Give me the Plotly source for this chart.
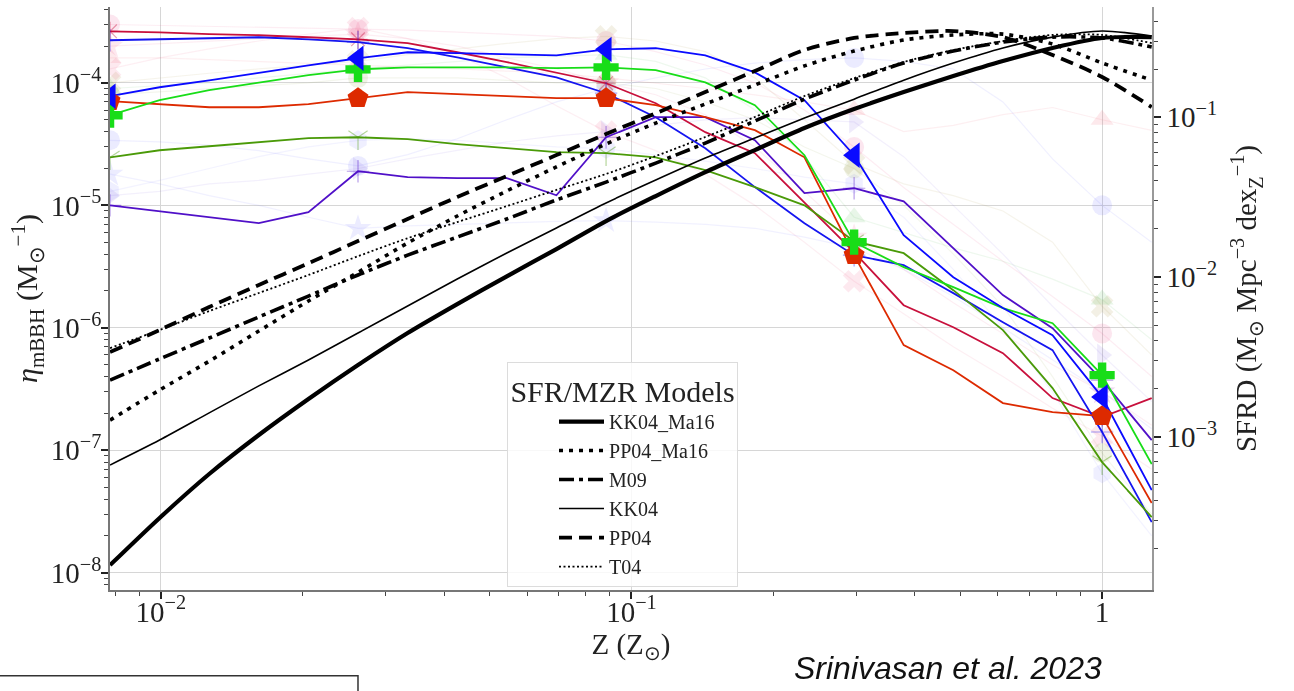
import plotly.graph_objects as go

# Metallicity grid, in solar units
Z = [0.0078, 0.00994, 0.01267, 0.01615, 0.02059, 0.02624, 0.03345, 0.04264,
     0.05434, 0.06927, 0.08831, 0.1126, 0.1435, 0.1829, 0.2331, 0.2972,
     0.3788, 0.4829, 0.6155, 0.7846, 1.0, 1.2746]

# Merger efficiency of BBHs (left axis), highlighted population models
eta_crimson = [2.64e-4, 2.59e-4, 2.50e-4, 2.45e-4, 2.36e-4, 2.27e-4, 2.11e-4, 1.78e-4,
               1.48e-4, 1.22e-4, 9.94e-5, 6.83e-5, 3.96e-5, 2.67e-5, 1.06e-5, 4.15e-6,
               1.53e-6, 1.01e-6, 6.21e-7, 2.67e-7, 1.87e-7, 2.67e-7]
eta_blue = [2.23e-4, 2.27e-4, 2.32e-4, 2.36e-4, 2.27e-4, 2.15e-4, 1.92e-4, 1.62e-4,
            1.34e-4, 1.11e-4, 8.24e-5, 5.25e-5, 2.93e-5, 1.41e-5, 7.16e-6, 3.92e-6,
            3.25e-6, 1.92e-6, 1.11e-6, 6.58e-7, 1.41e-7, 2.59e-8]
eta_blue_tri = [7.79e-5, 9.22e-5, 1.05e-4, 1.20e-4, 1.39e-4, 1.59e-4, 1.78e-4, 1.75e-4,
                1.72e-4, 1.68e-4, 1.88e-4, 1.92e-4, 1.68e-4, 1.22e-4, 7.22e-5, 2.57e-5,
                5.71e-6, 2.59e-6, 1.45e-6, 8.72e-7, 2.72e-7, 4.73e-8]
eta_green_plus = [5.45e-5, 7.22e-5, 8.72e-5, 1.01e-4, 1.16e-4, 1.29e-4, 1.34e-4, 1.34e-4,
                  1.34e-4, 1.32e-4, 1.34e-4, 1.27e-4, 1.01e-4, 6.58e-5, 2.57e-5, 5.01e-6,
                  3.13e-6, 2.15e-6, 1.45e-6, 1.09e-6, 4.11e-7, 7.71e-8]
eta_red_pent = [7.09e-5, 6.70e-5, 6.33e-5, 6.33e-5, 6.70e-5, 7.50e-5, 8.40e-5, 8.09e-5,
                7.79e-5, 7.50e-5, 7.50e-5, 6.58e-5, 5.25e-5, 4.11e-5, 2.47e-5, 3.92e-6,
                7.22e-7, 4.51e-7, 2.43e-7, 2.05e-7, 1.90e-7, 3.71e-8]
eta_olive = [2.47e-5, 2.82e-5, 3.04e-5, 3.28e-5, 3.54e-5, 3.60e-5, 3.47e-5, 3.16e-5,
             2.93e-5, 2.72e-5, 2.67e-5, 2.47e-5, 1.94e-5, 1.41e-5, 1.00e-5, 5.10e-6,
             4.07e-6, 2.03e-6, 9.57e-7, 3.22e-7, 8.01e-8, 2.85e-8]
eta_purple = [1.00e-5, 8.97e-6, 8.01e-6, 7.16e-6, 8.80e-6, 1.90e-5, 1.70e-5, 1.67e-5,
              1.67e-5, 1.21e-5, 3.60e-5, 5.25e-5, 5.25e-5, 3.41e-5, 1.26e-5, 1.38e-5,
              1.08e-5, 4.47e-6, 1.85e-6, 9.94e-7, 3.74e-7, 1.21e-7]

# Remaining population models, shown in the background
eta_bg_1 = [3.0e-4, 2.95e-4, 2.9e-4, 2.85e-4, 2.8e-4, 2.75e-4, 2.7e-4, 2.6e-4, 2.5e-4, 2.4e-4, 2.2e-4,
            1.8e-4, 1.4e-4, 1.0e-4, 6.0e-5, 3.0e-5, 1.4e-5, 7.0e-6, 3.5e-6, 1.8e-6, 9.0e-7, 4.0e-7]
eta_bg_2 = [1.6e-4, 1.6e-4, 1.55e-4, 1.5e-4, 1.45e-4, 1.4e-4, 1.35e-4, 1.3e-4, 1.25e-4, 1.2e-4, 1.1e-4,
            1.0e-4, 9.0e-5, 8.0e-5, 7.0e-5, 6.0e-5, 4.0e-5, 4.5e-5, 5.5e-5, 6.3e-5, 5.0e-5, 4.1e-5]
eta_bg_3 = [3.4e-5, 3.3e-5, 3.1e-5, 2.8e-5, 2.4e-5, 2.1e-5, 2.6e-5, 3.5e-5, 5.0e-5, 7.0e-5, 9.0e-5,
            1.1e-4, 1.3e-4, 1.45e-4, 1.55e-4, 1.6e-4, 1.5e-4, 1.3e-4, 7.0e-5, 2.4e-5, 1.0e-5, 5.0e-6]
eta_bg_4 = [1.8e-5, 1.5e-5, 1.2e-5, 1.0e-5, 8.0e-6, 6.5e-6, 6.8e-6, 7.0e-6, 7.2e-6, 7.4e-6, 7.5e-6,
            7.3e-6, 7.0e-6, 6.5e-6, 5.5e-6, 4.5e-6, 3.0e-6, 1.8e-6, 1.0e-6, 5.5e-7, 3.0e-7, 1.5e-7]
eta_bg_5 = [1.0e-4, 1.1e-4, 1.2e-4, 1.3e-4, 1.4e-4, 1.5e-4, 1.7e-4, 1.9e-4, 2.1e-4, 2.3e-4, 2.4e-4,
            2.2e-4, 1.8e-4, 1.1e-4, 5.0e-5, 2.2e-5, 1.5e-5, 1.2e-5, 9.0e-6, 5.0e-6, 1.5e-6, 6.0e-7]
eta_bg_6 = [9.0e-5, 9.5e-5, 1.0e-4, 1.1e-4, 1.2e-4, 1.3e-4, 1.4e-4, 1.5e-4, 1.6e-4, 1.65e-4, 1.7e-4,
            1.5e-4, 1.1e-4, 6.0e-5, 2.5e-5, 8.0e-6, 6.0e-6, 4.5e-6, 3.5e-6, 2.5e-6, 1.7e-6, 8.0e-7]
eta_bg_7 = [2.0e-4, 2.1e-4, 2.2e-4, 2.3e-4, 2.4e-4, 2.5e-4, 2.3e-4, 2.0e-4, 1.6e-4, 1.3e-4, 1.0e-4,
            8.0e-5, 5.5e-5, 3.0e-5, 1.3e-5, 5.5e-6, 3.0e-6, 1.6e-6, 9.0e-7, 5.0e-7, 3.0e-7, 1.6e-7]
eta_bg_8 = [1.2e-5, 1.3e-5, 1.5e-5, 1.6e-5, 1.8e-5, 2.0e-5, 2.4e-5, 2.8e-5, 3.3e-5, 3.7e-5, 4.0e-5,
            4.5e-5, 5.0e-5, 5.2e-5, 5.0e-5, 4.8e-5, 2.5e-5, 1.0e-5, 4.0e-6, 1.5e-6, 6.0e-7, 2.5e-7]
eta_bg_9 = [1.3e-4, 1.6e-4, 1.9e-4, 2.2e-4, 2.5e-4, 2.8e-4, 2.3e-4, 1.7e-4, 1.1e-4, 6.5e-5, 4.0e-5,
            2.8e-5, 1.8e-5, 1.0e-5, 5.0e-6, 2.4e-6, 1.3e-6, 7.0e-7, 4.0e-7, 2.2e-7, 1.3e-7, 7.0e-8]
eta_bg_10 = [1.3e-5, 1.6e-5, 2.0e-5, 2.5e-5, 3.0e-5, 3.4e-5, 3.5e-5, 3.4e-5, 3.2e-5, 3.0e-5, 2.9e-5,
             2.6e-5, 2.3e-5, 2.0e-5, 1.7e-5, 1.5e-5, 8.0e-6, 3.0e-6, 1.0e-6, 3.0e-7, 6.5e-8, 2.0e-8]
eta_bg_11 = [8.0e-5, 8.5e-5, 9.0e-5, 9.5e-5, 1.0e-4, 1.1e-4, 1.1e-4, 1.1e-4, 1.05e-4, 1.0e-4, 1.0e-4,
             9.0e-5, 7.0e-5, 5.0e-5, 3.0e-5, 2.0e-5, 1.0e-5, 4.0e-6, 1.5e-6, 4.0e-7, 9.5e-8, 3.0e-8]

# Star-formation rate density per metallicity (right axis), one per SFR/MZR model
model_names = ["KK04_Ma16", "PP04_Ma16", "M09", "KK04", "PP04", "T04"]
sfrd_kk04_ma16 = [0.000157, 0.000310, 0.000584, 0.001025, 0.001722, 0.002812, 0.00446, 0.00677,
                  0.0101, 0.01497, 0.02242, 0.03215, 0.0454, 0.0624, 0.0857, 0.1127,
                  0.144, 0.1814, 0.2252, 0.272, 0.314, 0.318]
sfrd_pp04_ma16 = [0.00127, 0.00196, 0.00297, 0.00459, 0.00708, 0.0107, 0.01633, 0.0241,
                  0.0346, 0.0489, 0.0681, 0.0921, 0.1212, 0.1594, 0.210, 0.260,
                  0.305, 0.328, 0.332, 0.288, 0.219, 0.171]
sfrd_m09 = [0.00226, 0.00307, 0.00415, 0.00562, 0.00760, 0.0103, 0.0137, 0.0178,
            0.0231, 0.0304, 0.0393, 0.0517, 0.0690, 0.0948, 0.130, 0.171,
            0.219, 0.260, 0.296, 0.318, 0.314, 0.276]
sfrd_kk04 = [0.000665, 0.000953, 0.00141, 0.00208, 0.00302, 0.00446, 0.00658, 0.00972,
             0.01414, 0.0203, 0.0291, 0.0405, 0.0556, 0.0742, 0.0990, 0.130,
             0.171, 0.219, 0.272, 0.318, 0.347, 0.323]
sfrd_pp04 = [0.00339, 0.00466, 0.00649, 0.00891, 0.0122, 0.0168, 0.0231, 0.0317,
             0.0429, 0.0580, 0.0786, 0.106, 0.144, 0.195, 0.264, 0.314,
             0.337, 0.347, 0.318, 0.246, 0.179, 0.116]
sfrd_t04 = [0.00359, 0.00466, 0.00612, 0.00794, 0.0103, 0.0135, 0.0175, 0.0221,
            0.0278, 0.0351, 0.0442, 0.0572, 0.0753, 0.1005, 0.136, 0.176,
            0.222, 0.264, 0.300, 0.328, 0.328, 0.292]

# Tick positions and labels
x_ticks = [0.01, 0.1, 1.0]
x_labels = ["10<sup>−2</sup>", "10<sup>−1</sup>", "1"]
y_ticks = [1e-8, 1e-7, 1e-6, 1e-5, 1e-4]
y_labels = ["10<sup>−8</sup>", "10<sup>−7</sup>", "10<sup>−6</sup>", "10<sup>−5</sup>", "10<sup>−4</sup>"]
y2_ticks = [1e-3, 1e-2, 1e-1]
y2_labels = ["10<sup>−3</sup>", "10<sup>−2</sup>", "10<sup>−1</sup>"]

SERIF = "Liberation Serif"
fig = go.Figure()

# background models: faint lines plus faint markers every fifth grid point
bg_series = [eta_bg_1, eta_bg_2, eta_bg_3, eta_bg_4, eta_bg_5, eta_bg_6,
             eta_bg_7, eta_bg_8, eta_bg_9, eta_bg_10, eta_bg_11]
bg_styles = [("232,80,140", "circle"), ("240,100,120", "triangle-up"),
             ("110,110,255", "circle"), ("120,120,255", "star"),
             ("170,150,70", "x"), ("90,190,90", "triangle-up"),
             ("240,90,140", "star"), ("140,110,230", "triangle-right"),
             ("240,100,140", "x"), ("140,140,255", "hexagon"),
             ("150,170,80", "circle")]
for vals, (rgb, sym) in zip(bg_series, bg_styles):
    fig.add_trace(go.Scatter(x=Z, y=vals, mode="lines", showlegend=False, hoverinfo="skip",
                             line=dict(color=f"rgba({rgb},0.10)", width=1.2)))
    fig.add_trace(go.Scatter(x=Z[::5], y=vals[::5], mode="markers", showlegend=False,
                             hoverinfo="skip",
                             marker=dict(symbol=sym, size=20, color=f"rgba({rgb},0.14)",
                                         line=dict(width=0))))

# highlighted models
bold_lines = [
    (eta_crimson, "#c8103c", "asterisk-open"),
    (eta_blue, "#1515f0", "cross-thin-open"),
    (eta_olive, "#4a9a08", "y-down-open"),
    (eta_purple, "#5010c8", "cross-thin-open"),
    (eta_red_pent, "#dd2a00", None),
    (eta_green_plus, "#18dd18", None),
    (eta_blue_tri, "#0a0aff", None),
]
for vals, col, thin_sym in bold_lines:
    fig.add_trace(go.Scatter(x=Z, y=vals, mode="lines", showlegend=False,
                             line=dict(color=col, width=1.8)))
    if thin_sym:
        fig.add_trace(go.Scatter(x=Z[::5], y=vals[::5], mode="markers", showlegend=False,
                                 opacity=0.4,
                                 marker=dict(symbol=thin_sym, size=16, color=col,
                                             line=dict(color=col, width=1.2))))

for vals, col, sym, size in [(eta_red_pent, "#dd2a00", "pentagon", 22),
                             (eta_green_plus, "#18dd18", "cross", 21),
                             (eta_blue_tri, "#0a0aff", "triangle-left", 22)]:
    fig.add_trace(go.Scatter(x=Z[::5], y=vals[::5], mode="markers", showlegend=False,
                             marker=dict(symbol=sym, size=size, color=col, line=dict(width=0))))

# SFR/MZR model curves on the right axis
sfrd_series = [sfrd_kk04_ma16, sfrd_pp04_ma16, sfrd_m09, sfrd_kk04, sfrd_pp04, sfrd_t04]
sfrd_styles = [dict(width=4.2, dash="solid"),
               dict(width=3.6, dash="4px,6px"),
               dict(width=3.6, dash="15px,5px,4px,5px"),
               dict(width=1.6, dash="solid"),
               dict(width=3.8, dash="13px,7px"),
               dict(width=1.8, dash="2px,2.5px")]
for i, (name, vals, st) in enumerate(zip(model_names, sfrd_series, sfrd_styles)):
    fig.add_trace(go.Scatter(x=Z, y=vals, mode="lines", name=name, yaxis="y2",
                             legendgroup=f"g{i}", line_shape="spline",
                             line=dict(color="black", width=st["width"], dash=st["dash"],
                                       smoothing=0.8)))

# minor tick positions (2..9 within each decade)
minor_x = [m * 10.0 ** e for e in (-3, -2, -1, 0) for m in range(2, 10)]
minor_y = [m * 10.0 ** e for e in range(-9, -3) for m in range(2, 10)]
minor_y2 = [m * 10.0 ** e for e in range(-5, 0) for m in range(2, 10)]

tick_font = dict(family=SERIF, size=29, color="#222")
common = dict(type="log", tickmode="array", zeroline=False, showline=True, linewidth=1.6,
              ticks="outside", ticklen=7, tickwidth=1.6, tickcolor="#222",
              tickfont=tick_font, automargin=False)
fig.update_layout(
    width=1294, height=691, autosize=False,
    margin=dict(l=110, r=142, t=7, b=101),
    paper_bgcolor="white", plot_bgcolor="white",
    font=dict(family=SERIF, color="#222"),
    xaxis=dict(common, range=[-2.108, 0.106], tickvals=x_ticks, ticktext=x_labels,
               showgrid=True, gridcolor="#d6d6d6", gridwidth=1.4, linecolor="#777",
               ticklabelstandoff=-12,
               minor=dict(tickmode="array", tickvals=minor_x, ticks="outside", ticklen=4,
                          tickwidth=1, tickcolor="#444", showgrid=False),
               title=dict(text="Z (Z<sub>⊙</sub>)", font=dict(family=SERIF, size=29),
                          standoff=0)),
    yaxis=dict(common, range=[-8.141, -3.38], tickvals=y_ticks, ticktext=y_labels,
               showgrid=True, gridcolor="#d6d6d6", gridwidth=1.4, linecolor="#777",
               ticklabelstandoff=-6,
               minor=dict(tickmode="array", tickvals=minor_y, ticks="outside", ticklen=4,
                          tickwidth=1, tickcolor="#444", showgrid=False),
               title=dict(text="<i>η</i><sub>mBBH</sub> (M<sub>⊙</sub><sup>−1</sup>)",
                          font=dict(family=SERIF, size=30), standoff=4)),
    yaxis2=dict(common, range=[-3.96, -0.309], tickvals=y2_ticks, ticktext=y2_labels,
                overlaying="y", side="right", showgrid=False, linecolor="#999",
                minor=dict(tickmode="array", tickvals=minor_y2, ticks="outside", ticklen=4,
                           tickwidth=1, tickcolor="#444", showgrid=False),
                title=dict(text="SFRD (M<sub>⊙</sub> Mpc<sup>−3</sup> dex<sub>Z</sub><sup>−1</sup>)",
                           font=dict(family=SERIF, size=29), standoff=20)),
    legend=dict(x=0.381, y=0.391, xanchor="left", yanchor="top",
                bgcolor="rgba(255,255,255,0.82)", bordercolor="#dcdcdc", borderwidth=1,
                font=dict(family=SERIF, size=20, color="#222"),
                title=dict(text="SFR/MZR Models", side="top center",
                           font=dict(family=SERIF, size=30, color="#222")),
                tracegroupgap=0, itemwidth=45, indentation=46),
    annotations=[dict(text="<i>Srinivasan et al. 2023</i>", xref="paper", yref="paper",
                      x=0.804, y=-0.134, xanchor="center", yanchor="middle",
                      showarrow=False,
                      font=dict(family="Liberation Sans", size=32, color="#111"))],
    shapes=[dict(type="rect", xref="paper", yref="paper", x0=-0.112, x1=0.238,
                 y0=-0.147, y1=-0.2, line=dict(color="#333", width=1.5),
                 fillcolor="rgba(0,0,0,0)")],
)

fig.write_html("out.html")
